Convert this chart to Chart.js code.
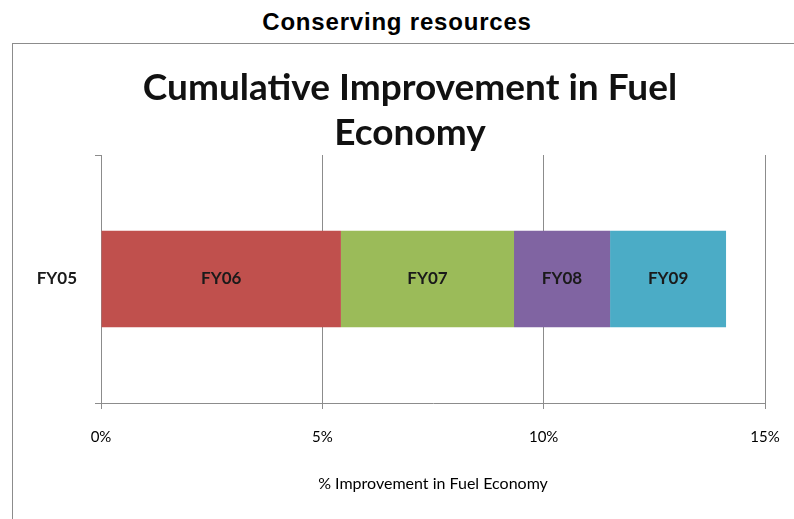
<!DOCTYPE html>
<html>
<head>
<meta charset="utf-8">
<script src="https://cdn.jsdelivr.net/npm/chart.js@4/dist/chart.umd.min.js"></script>
<style>
  html, body { margin: 0; padding: 0; background: #fff; }
  #page { position: relative; width: 794px; height: 519px; overflow: hidden; }
  #pageTitle { position: absolute; left: 0; top: 8px; width: 794px; text-align: center;
    font-family: "Liberation Sans", Arial, sans-serif; font-weight: bold; font-size: 24px;
    letter-spacing: 0.8px; color: #000; }
  #frame { position: absolute; left: 12px; top: 43px; width: 900px; height: 600px;
    border: 1px solid #8c8c8c; box-sizing: border-box; }
  #wrap { position: absolute; left: 0; top: 0; width: 794px; height: 519px; }
</style>
</head>
<body>
<div id="page">
  <div id="pageTitle">Conserving resources</div>
  <div id="frame"></div>
  <div id="wrap"><canvas id="c"></canvas></div>
</div>
<script>
const categories = ['FY05'];
const seriesNames = ['FY06', 'FY07', 'FY08', 'FY09'];
const fy06 = [5.42];
const fy07 = [3.91];
const fy08 = [2.17];
const fy09 = [2.62];
const xTickValues = [0, 5, 10, 15];
const chartTitleLines = ['Cumulative Improvement in Fuel', 'Economy'];
const xAxisTitle = '% Improvement in Fuel Economy';
const seriesColors = ['#C0504D', '#9BBB59', '#8064A2', '#4BACC6'];

const FONT = 'Lato, "Open Sans", sans-serif';

const segmentLabels = {
  id: 'segmentLabels',
  afterDatasetsDraw(chart) {
    const ctx = chart.ctx;
    ctx.save();
    ctx.font = 'bold 17px ' + FONT;
    ctx.fillStyle = '#1a1a1a';
    ctx.textAlign = 'center';
    ctx.textBaseline = 'middle';
    chart.data.datasets.forEach((ds, i) => {
      const meta = chart.getDatasetMeta(i);
      meta.data.forEach(el => {
        const cx = (el.x + el.base) / 2;
        ctx.fillText(ds.label, cx, el.y);
      });
    });
    ctx.restore();
  }
};

const boxTitle = {
  id: 'boxTitle',
  afterDraw(chart) {
    const ctx = chart.ctx;
    ctx.save();
    ctx.font = 'bold 37px ' + FONT;
    ctx.fillStyle = '#111';
    ctx.textAlign = 'center';
    ctx.textBaseline = 'middle';
    chartTitleLines.forEach((line, i) => ctx.fillText(line, 410, 88 + i * 45));
    ctx.restore();
  }
};

const allSeries = [fy06, fy07, fy08, fy09];
new Chart(document.getElementById('c'), {
  type: 'bar',
  data: {
    labels: categories,
    datasets: allSeries.map((vals, i) => ({
      label: seriesNames[i],
      data: vals,
      backgroundColor: seriesColors[i],
      borderWidth: 0,
      categoryPercentage: 1,
      barPercentage: 0.39
    }))
  },
  options: {
    indexAxis: 'y',
    responsive: true,
    maintainAspectRatio: false,
    animation: false,
    layout: { padding: { left: 0, right: 29, top: 155, bottom: 26 } },
    plugins: {
      legend: { display: false },
      tooltip: { enabled: false },
      title: { display: false }
    },
    scales: {
      x: {
        stacked: true,
        min: 0,
        max: 15,
        afterBuildTicks(scale) { scale.ticks = xTickValues.map(v => ({ value: v })); },
        afterFit(scale) {
          scale.paddingLeft = 0;
          scale.paddingRight = 0;
          scale.height = 90;
        },
        ticks: {
          callback: v => v + '%',
          font: { family: FONT, size: 15 },
          color: '#000',
          padding: 19
        },
        grid: { color: '#8c8c8c', tickLength: 6, lineWidth: 1 },
        border: { color: '#8c8c8c' },
        title: {
          display: true,
          text: xAxisTitle,
          font: { family: FONT, size: 16 },
          color: '#000',
          padding: { top: 9, bottom: 0 }
        }
      },
      y: {
        stacked: true,
        afterFit(scale) {
          scale.width = 101;
          scale.paddingTop = 0;
          scale.paddingBottom = 0;
        },
        ticks: { font: { family: FONT, size: 17, weight: 'bold' }, color: '#1a1a1a', padding: 18 },
        grid: { drawOnChartArea: false, offset: true, tickLength: 6, color: '#8c8c8c' },
        border: { color: '#8c8c8c' }
      }
    }
  },
  plugins: [segmentLabels, boxTitle]
});
</script>
</body>
</html>
